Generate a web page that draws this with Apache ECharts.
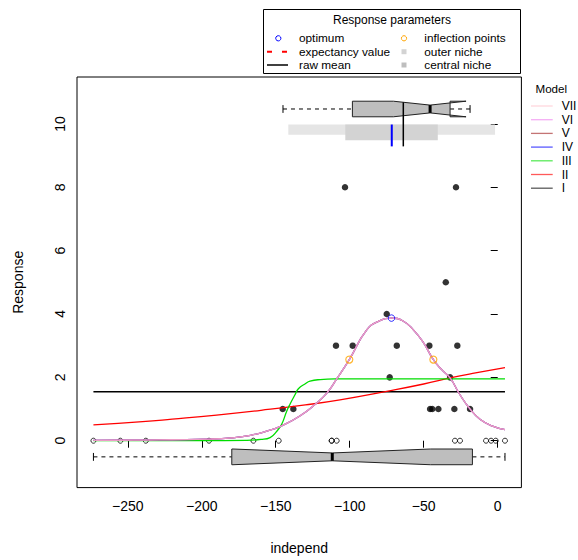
<!DOCTYPE html>
<html><head><meta charset="utf-8">
<script src="https://cdn.jsdelivr.net/npm/echarts@6/dist/echarts.min.js"></script>
<style>html,body{margin:0;padding:0;background:#fff}#c{width:578px;height:560px}</style>
</head><body><div id="c"></div>
<script>
// ---- data ----
const independ = [-273.2,-255.0,-237.8,-195.1,-165.1,-148.0,-145.3,-138.1,-112.2,-112.2,-109.3,-108.8,-103.2,-98.0,-75.0,-73.0,-68.2,-46.2,-45.7,-44.2,-40.1,-35.1,-32.2,-29.3,-28.9,-28.2,-27.3,-25.5,-18.7,-7.9,-4.5,-1.35,4.9];
const response = [0,0,0,0,0,0,1,1,0,0,3,0,8,3,4,2,3,3,1,1,1,5,2,1,0,8,3,0,1,0,0,0,0];
const xTicks = [-250,-200,-150,-100,-50,0];
const yTicks = [0,2,4,6,8,10];
const modelOrder = ['VII','VI','V','IV','III','II','I'];

const modelI = [[-273.2,1.545],[4.9,1.545]];
const modelII = [[-273.2,0.50],[-240,0.60],[-220,0.68],[-190,0.81],[-160,0.96],[-130,1.13],[-106.6,1.29],[-75,1.56],[-50,1.79],[-32.2,1.98],[-15,2.14],[4.9,2.31]];
const modelIII = [[-273.2,0],[-200,0],[-170,0.01],[-160,0.04],[-153.8,0.1],[-149.3,0.3],[-146,0.52],[-142.6,0.93],[-140.3,1.16],[-137,1.45],[-134.7,1.64],[-130,1.8],[-126.8,1.88],[-120,1.93],[-110,1.95],[-50,1.95],[4.9,1.95]];
const unimodalFit = [[-273.2,0.01],[-255,0.015],[-237.8,0.02],[-220,0.03],[-195,0.05],[-180,0.09],[-167,0.17],[-156,0.30],[-146,0.47],[-134,0.77],[-122.3,1.19],[-115.5,1.5],[-108.8,1.95],[-100.3,2.56],[-88.5,3.5],[-80,3.78],[-71.8,3.87],[-64,3.78],[-57,3.5],[-50,3.08],[-43.5,2.56],[-38,2.25],[-32.2,1.98],[-25.5,1.45],[-18.7,1.0],[-12,0.68],[-3,0.45],[4.9,0.35]];
const modelIV = unimodalFit, modelV = unimodalFit, modelVI = unimodalFit, modelVII = unimodalFit;

const absenceBox = [-273.2,-179.7,-111.8,-17.1,4.9];   // whisker lo, hinge lo, median, hinge hi, whisker hi
const absenceNotch = [-178.9,-45.5];
const presenceBox = [-145.1,-98.2,-45.7,-32.2,-18.7];
const presenceNotch = [-70.5,-21.4];
const optimum = [[-71.8,3.87]];
const inflection = [[-100.3,2.56],[-43.5,2.56]];
const outerNiche = [-141.5,-1.8];
const centralNiche = [-103.0,-40.5];
const optimumX = -71.6;
const rawMeanX = -63.8;

// ---- chart ----
const FONT = 'Liberation Sans, Arial, Helvetica, sans-serif';
const COLORS = {I:'#000000', II:'#ff0000', III:'#00dd00', IV:'#0000ff', V:'#a52a2a', VI:'#ee82ee', VII:'#ffc0cb'};
const OPAC = {I:1, II:1, III:1, IV:0.8, V:0.8, VI:0.7, VII:0.6};
const absentPts = [], presentPts = [];
independ.forEach((x,i)=>{ (response[i]===0?absentPts:presentPts).push([x,response[i]]); });

function boxGroup(api, st, notch, yc, hh, nf){
  const P = (x,y)=>api.coord([x,y]);
  const [wlo,q1,med,q3,whi] = st, [nlo,nhi] = notch;
  const line = (a,b,style)=>({type:'line',shape:{x1:a[0],y1:a[1],x2:b[0],y2:b[1]},style:Object.assign({stroke:'#000',lineWidth:1},style)});
  const pts = [[q1,yc-hh],[q1,yc+hh],[nlo,yc+hh],[med,yc+hh*nf],[nhi,yc+hh],[q3,yc+hh],[q3,yc-hh],[nhi,yc-hh],[med,yc-hh*nf],[nlo,yc-hh]].map(p=>P(p[0],p[1]));
  return [
    line(P(wlo,yc),P(q1,yc),{lineDash:[4,4]}),
    line(P(q3,yc),P(whi,yc),{lineDash:[4,4]}),
    line(P(wlo,yc-hh*0.5),P(wlo,yc+hh*0.5),{}),
    line(P(whi,yc-hh*0.5),P(whi,yc+hh*0.5),{}),
    {type:'polygon',shape:{points:pts},style:{fill:'#bebebe',stroke:'#222',lineWidth:1}},
    line(P(med,yc-hh*nf),P(med,yc+hh*nf),{lineWidth:3})
  ];
}
function rectShape(api,x0,x1,y0,y1,fill){
  const a = api.coord([x0,y1]), b = api.coord([x1,y0]);
  return {type:'rect',shape:{x:a[0],y:a[1],width:b[0]-a[0],height:b[1]-a[1]},style:{fill:fill}};
}

const lineSeries = (name,data)=>({
  name, type:'line', data, showSymbol:false, symbol:'none', smooth:0.5,
  lineStyle:{color:COLORS[name], width:1.3, opacity:OPAC[name]}, itemStyle:{color:COLORS[name]}, silent:true, z:3
});

// model legend drawn as graphic elements
const modelLegend = [{type:'text', x:535.5, y:88.5, style:{text:'Model', font:'11.6px '+FONT, fill:'#000', textVerticalAlign:'middle'}, z:11}];
modelOrder.forEach((m,i)=>{
  const y = 106 + i*13.7;
  modelLegend.push({type:'line', shape:{x1:531,y1:y,x2:552.7,y2:y}, style:{stroke:COLORS[m], lineWidth:1.3, opacity:0.65}, z:11});
  modelLegend.push({type:'text', x:561.7, y:y, style:{text:m, font:'12px '+FONT, fill:'#000', textVerticalAlign:'middle'}, z:11});
});

const option = {
  animation:false,
  grid:{left:77, top:77, width:444.4, height:410.6, show:true, borderColor:'#000', borderWidth:1, containLabel:false},
  xAxis:{type:'value', min:-284.3, max:16, name:'independ', nameLocation:'middle', nameGap:53,
    nameTextStyle:{fontSize:14, color:'#000', fontFamily:FONT},
    splitLine:{show:false}, axisLine:{show:false},
    axisTick:{show:true, customValues:xTicks, length:7, lineStyle:{color:'#000'}},
    axisLabel:{customValues:xTicks, fontSize:14, color:'#000', fontFamily:FONT, margin:11,
      formatter:v=>String(v).replace('-','\u2212')}},
  yAxis:{type:'value', min:-1.48, max:11.48, name:'Response', nameLocation:'middle', nameGap:52, nameRotate:90,
    nameTextStyle:{fontSize:14, color:'#000', fontFamily:FONT},
    splitLine:{show:false}, axisLine:{show:false},
    axisTick:{show:true, customValues:yTicks, length:7, lineStyle:{color:'#000'}},
    axisLabel:{customValues:yTicks, fontSize:14, color:'#000', fontFamily:FONT, margin:10, rotate:90}},
  graphic:[
    {type:'rect', shape:{x:263.5,y:9.5,width:257,height:64}, style:{fill:'#fff',stroke:'#000',lineWidth:1}, z:10},
    {type:'text', x:392, y:20, style:{text:'Response parameters', font:'12px '+FONT, fill:'#000', textAlign:'center', textVerticalAlign:'middle'}, z:11},
    {type:'circle', shape:{cx:278.3,cy:38.3,r:2.6}, style:{fill:'none',stroke:'#0000ff',lineWidth:1}, z:11},
    {type:'circle', shape:{cx:404,cy:38.3,r:2.6}, style:{fill:'none',stroke:'#ffa500',lineWidth:1}, z:11},
    {type:'line', shape:{x1:267,y1:51.7,x2:288,y2:51.7}, style:{stroke:'#ff0000',lineWidth:2,lineDash:[5,10]}, z:11},
    {type:'line', shape:{x1:267,y1:65,x2:288,y2:65}, style:{stroke:'#000',lineWidth:1.5}, z:11},
    {type:'rect', shape:{x:401.5,y:49.2,width:5,height:5}, style:{fill:'#d3d3d3'}, z:11},
    {type:'rect', shape:{x:401.5,y:62.5,width:5,height:5}, style:{fill:'#bebebe'}, z:11},
    {type:'text', x:299, y:38.3, style:{text:'optimum', font:'11.8px '+FONT, fill:'#000', textVerticalAlign:'middle'}, z:11},
    {type:'text', x:299, y:51.7, style:{text:'expectancy value', font:'11.8px '+FONT, fill:'#000', textVerticalAlign:'middle'}, z:11},
    {type:'text', x:299, y:65, style:{text:'raw mean', font:'11.8px '+FONT, fill:'#000', textVerticalAlign:'middle'}, z:11},
    {type:'text', x:424.3, y:38.3, style:{text:'inflection points', font:'11.8px '+FONT, fill:'#000', textVerticalAlign:'middle'}, z:11},
    {type:'text', x:424.3, y:51.7, style:{text:'outer niche', font:'11.8px '+FONT, fill:'#000', textVerticalAlign:'middle'}, z:11},
    {type:'text', x:424.3, y:65, style:{text:'central niche', font:'11.8px '+FONT, fill:'#000', textVerticalAlign:'middle'}, z:11},
    ...modelLegend
  ],
  series:[
    {type:'custom', name:'niche', silent:true, z:1, data:[[0,0]],
      renderItem:(params,api)=>({type:'group', children:[
        rectShape(api,outerNiche[0],outerNiche[1],9.66,9.98,'#e5e5e5'),
        rectShape(api,centralNiche[0],centralNiche[1],9.48,9.98,'#d3d3d3'),
        ...boxGroup(api,presenceBox,presenceNotch,10.47,0.246,0.5),
        ...boxGroup(api,absenceBox,absenceNotch,-0.51,0.248,0.5),
        {type:'line',shape:(()=>{const a=api.coord([optimumX,9.98]),b=api.coord([optimumX,9.29]);return {x1:a[0],y1:a[1],x2:b[0],y2:b[1]};})(),style:{stroke:'#0000ff',lineWidth:2}},
        {type:'line',shape:(()=>{const a=api.coord([rawMeanX,10.68]),b=api.coord([rawMeanX,9.29]);return {x1:a[0],y1:a[1],x2:b[0],y2:b[1]};})(),style:{stroke:'#000',lineWidth:1.5}}
      ]})},
    {type:'scatter', name:'absent', data:absentPts, symbol:'circle', symbolSize:5,
      itemStyle:{color:'rgba(0,0,0,0)', borderColor:'#000', borderWidth:1}, silent:true, z:2},
    {type:'scatter', name:'present', data:presentPts, symbol:'circle', symbolSize:6.5,
      itemStyle:{color:'#000'}, silent:true, z:2},
    lineSeries('I',modelI),
    lineSeries('II',modelII),
    lineSeries('III',modelIII),
    lineSeries('IV',modelIV),
    lineSeries('V',modelV),
    lineSeries('VI',modelVI),
    lineSeries('VII',modelVII),
    {type:'scatter', name:'optimum', data:optimum, symbol:'circle', symbolSize:6.5,
      itemStyle:{color:'rgba(0,0,0,0)', borderColor:'#0000ff', borderWidth:1}, silent:true, z:4},
    {type:'scatter', name:'inflection points', data:inflection, symbol:'circle', symbolSize:7,
      itemStyle:{color:'rgba(0,0,0,0)', borderColor:'#ffa500', borderWidth:1.2}, silent:true, z:4}
  ]
};
const chart = echarts.init(document.getElementById('c'), null, {renderer:'svg'});
chart.setOption(option);
</script></body></html>
